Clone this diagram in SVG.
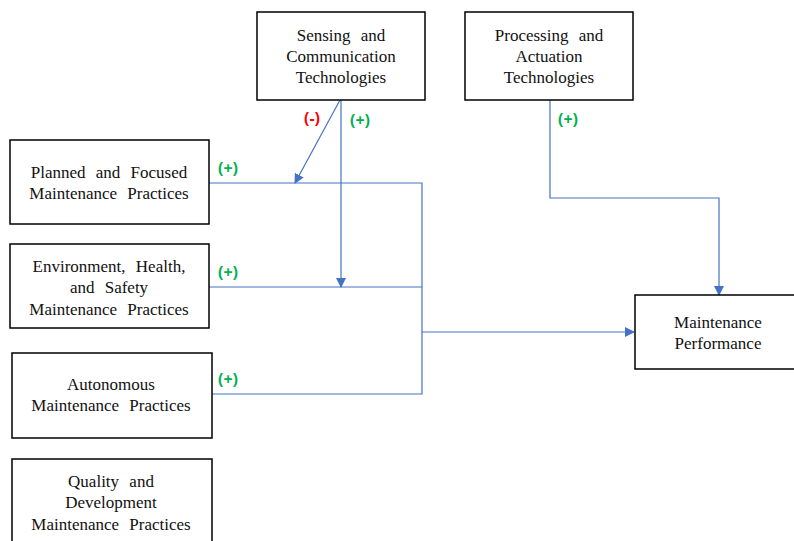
<svg xmlns="http://www.w3.org/2000/svg" width="794" height="541" viewBox="0 0 794 541">
<style>
.box{fill:#fff;stroke:#000;stroke-width:1.5}
.t{font-family:"Liberation Serif","Times New Roman",serif;font-size:17px;fill:#111;text-anchor:middle;word-spacing:6px}
.c{fill:none;stroke:#4472C4;stroke-width:1.2}
.p{font-family:"Open Sans","Liberation Sans",sans-serif;font-size:16px;font-weight:bold;fill:#00B050;text-anchor:middle}
.m{fill:#FF0000}
</style>
<defs>
<marker id="ah" markerWidth="10" markerHeight="10" refX="9" refY="5" orient="auto" markerUnits="userSpaceOnUse">
<path d="M0,0 L10,5 L0,10 z" fill="#4472C4"/>
</marker>
</defs>
<rect width="794" height="541" fill="#fff"/>
<g id="connectors">
<path class="c" d="M209,183 H422 V394 H212"/>
<path class="c" d="M209,287 H422"/>
<path class="c" d="M422,332 H634" marker-end="url(#ah)"/>
<path class="c" d="M341,100 V287" marker-end="url(#ah)"/>
<path class="c" d="M340,100 L295,183" marker-end="url(#ah)"/>
<path class="c" d="M550,100 V198 H719 V295" marker-end="url(#ah)"/>
<text class="p m" x="312" y="124">(-)</text>
<text class="p" x="360" y="126">(+)</text>
<text class="p" x="568" y="125">(+)</text>
<text class="p" x="228" y="174">(+)</text>
<text class="p" x="228" y="278">(+)</text>
<text class="p" x="228" y="385">(+)</text>
</g>
<g id="sensing">
<rect class="box" x="257" y="12" width="168" height="88"/>
<text class="t" x="341" y="41">Sensing and</text>
<text class="t" x="341" y="62">Communication</text>
<text class="t" x="341" y="83">Technologies</text>
</g>
<g id="processing">
<rect class="box" x="465" y="12" width="168" height="88"/>
<text class="t" x="549" y="41">Processing and</text>
<text class="t" x="549" y="62">Actuation</text>
<text class="t" x="549" y="83">Technologies</text>
</g>
<g id="planned">
<rect class="box" x="10" y="140" width="199" height="84"/>
<text class="t" x="109" y="178">Planned and Focused</text>
<text class="t" x="109" y="199">Maintenance Practices</text>
</g>
<g id="ehs">
<rect class="box" x="10" y="244" width="199" height="84"/>
<text class="t" x="109" y="272">Environment, Health,</text>
<text class="t" x="109" y="293">and Safety</text>
<text class="t" x="109" y="315">Maintenance Practices</text>
</g>
<g id="autonomous">
<rect class="box" x="12" y="353" width="200" height="85"/>
<text class="t" x="111" y="390">Autonomous</text>
<text class="t" x="111" y="411">Maintenance Practices</text>
</g>
<g id="quality">
<rect class="box" x="12" y="459" width="200" height="90"/>
<text class="t" x="111" y="487">Quality and</text>
<text class="t" x="111" y="508">Development</text>
<text class="t" x="111" y="530">Maintenance Practices</text>
</g>
<g id="performance">
<rect class="box" x="635" y="295" width="165" height="74"/>
<text class="t" x="718" y="328">Maintenance</text>
<text class="t" x="718" y="349">Performance</text>
</g>
</svg>
